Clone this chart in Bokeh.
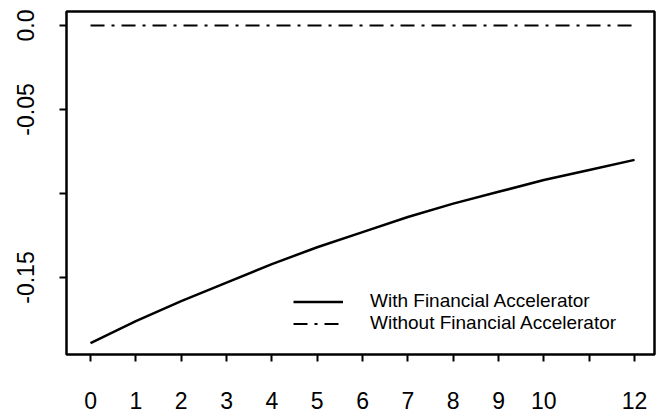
from bokeh.plotting import figure
from bokeh.models import FixedTicker, Legend, LegendItem, Range1d
from bokeh.embed import file_html
from bokeh.resources import INLINE

# ---- data ----
horizon = [0, 1, 2, 3, 4, 5, 6, 7, 8, 9, 10, 11, 12]
with_fa = [-0.189, -0.176, -0.164, -0.153, -0.142, -0.132, -0.123,
           -0.114, -0.106, -0.099, -0.092, -0.086, -0.080]
without_fa = [0.0, 0.0, 0.0, 0.0, 0.0, 0.0, 0.0, 0.0, 0.0, 0.0, 0.0, 0.0, 0.0]

x_ticks = [0, 1, 2, 3, 4, 5, 6, 7, 8, 9, 10, 11, 12]
x_tick_labels = ["0", "1", "2", "3", "4", "5", "6", "7", "8", "9", "10", "", "12"]
y_ticks = [-0.15, -0.10, -0.05, 0.0]
y_tick_labels = ["-0.15", "", "-0.05", "0.0"]

series_labels = ["With Financial Accelerator", "Without Financial Accelerator"]

FONT = "Liberation Sans"

p = figure(width=659, height=417,
           x_range=Range1d(-0.53, 12.44), y_range=Range1d(-0.1958, 0.0083),
           output_backend="svg", toolbar_location=None,
           min_border_left=66, min_border_right=5,
           min_border_top=11, min_border_bottom=63)

p.background_fill_color = "white"
p.border_fill_color = "white"
p.outline_line_color = "black"
p.outline_line_width = 2.5
p.xgrid.visible = False
p.ygrid.visible = False

for ax in (p.xaxis[0], p.yaxis[0]):
    ax.axis_line_color = None
    ax.major_tick_in = 0
    ax.major_tick_out = 7
    ax.major_tick_line_width = 2
    ax.major_tick_line_color = "black"
    ax.minor_tick_line_color = None
    ax.major_label_text_font = FONT
    ax.major_label_text_font_size = "23px"
    ax.major_label_text_color = "black"

p.xaxis.ticker = FixedTicker(ticks=x_ticks)
p.xaxis.major_label_overrides = {t: s for t, s in zip(x_ticks, x_tick_labels)}
p.xaxis.major_label_standoff = 30

p.yaxis.ticker = FixedTicker(ticks=y_ticks)
p.yaxis.major_label_overrides = {t: s for t, s in zip(y_ticks, y_tick_labels)}
p.yaxis.major_label_orientation = "vertical"
p.yaxis.major_label_standoff = 25

r1 = p.line(horizon, with_fa, line_color="black", line_width=2.5)
r2 = p.line(horizon, without_fa, line_color="black", line_width=2,
            line_dash="14 7 3 7")

legend_style = dict(border_line_color=None, background_fill_alpha=0,
                    padding=0, margin=0, spacing=0,
                    glyph_width=50, glyph_height=19, label_height=19,
                    label_standoff=27, label_text_font=FONT,
                    label_text_font_size="19px", label_text_color="black")

legend1 = Legend(items=[LegendItem(label=series_labels[0], renderers=[r1])],
                 location=(227, 42), **legend_style)
legend2 = Legend(items=[LegendItem(label=series_labels[1], renderers=[r2])],
                 location=(227, 20), **legend_style)
p.add_layout(legend1)
p.add_layout(legend2)

open("out.html", "w").write(file_html(p, INLINE))
